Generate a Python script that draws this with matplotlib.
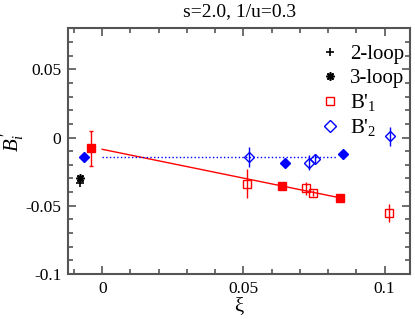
import numpy as np
import matplotlib
matplotlib.use('Agg')
import matplotlib.pyplot as plt
from matplotlib.lines import Line2D
from matplotlib.ticker import MultipleLocator, FuncFormatter

matplotlib.rcParams['font.family'] = ['Liberation Serif', 'DejaVu Serif']
matplotlib.rcParams['mathtext.fontset'] = 'custom'
matplotlib.rcParams['mathtext.rm'] = 'Liberation Serif'
matplotlib.rcParams['mathtext.it'] = 'Liberation Serif:italic'
matplotlib.rcParams['axes.unicode_minus'] = False

# loop results (extrapolated, plotted left of xi=0)
loop2_x, loop2_y = [-0.008], [-0.033]
loop3_x, loop3_y, loop3_e = [-0.008], [-0.030], [0.002]

# B'_1 filled / open
b1f_x = [-0.004, 0.0635, 0.0843]
b1f_y = [-0.008, -0.0357, -0.0442]
b1f_e = [0.0125, 0.002, 0.0015]
b1o_x = [0.0511, 0.0723, 0.0747, 0.1014]
b1o_y = [-0.0337, -0.0373, -0.0405, -0.0552]
b1o_e = [0.0104, 0.005, 0.002, 0.0065]

# B'_2 filled / open
b2f_x = [-0.0063, 0.0647, 0.0853]
b2f_y = [-0.0146, -0.0183, -0.0122]
b2f_e = [0.0, 0.003, 0.002]
b2o_x = [0.0519, 0.0733, 0.0755, 0.102]
b2o_y = [-0.0142, -0.0183, -0.0154, 0.001]
b2o_e = [0.0073, 0.0055, 0.003, 0.007]

# fits
fit1_x = [0.0, 0.0843]
fit1_y = [-0.0086, -0.0442]
fit2_x = [0.0, 0.083]
fit2_y = [-0.0146, -0.0146]

fig = plt.figure(figsize=(4.15, 3.19), dpi=100)
ax = fig.add_axes([0.1646, 0.141, 0.988 - 0.1646, 0.911 - 0.141])

red = '#ff0000'
blue = '#0000ff'
asterisk = (8, 2, 0)

ax.plot(fit1_x, fit1_y, color=red, lw=1)
ax.plot(fit2_x, fit2_y, color=blue, lw=1, ls=':')

ax.errorbar(b1f_x, b1f_y, yerr=b1f_e, fmt='s', color=red, ms=5.5, elinewidth=1, capsize=1.5, capthick=1)
ax.errorbar(b1o_x, b1o_y, yerr=b1o_e, fmt='s', color=red, mfc='none', ms=5.5, mew=1, elinewidth=1, capsize=0)
ax.errorbar(b2f_x, b2f_y, yerr=b2f_e, fmt='D', color=blue, ms=5.5, elinewidth=1, capsize=0)
ax.errorbar(b2o_x, b2o_y, yerr=b2o_e, fmt='D', color=blue, mfc='none', ms=5.5, mew=1, elinewidth=1, capsize=0)
ax.errorbar(loop3_x, loop3_y, yerr=loop3_e, fmt='none', ecolor='black', elinewidth=1, capsize=0)
ax.plot(loop3_x, loop3_y, ls='none', marker=asterisk, color='black', ms=6, mew=1.2)
ax.plot(loop2_x, loop2_y, '+', color='black', ms=6, mew=1.2)

ax.set_xlim(-0.012, 0.109)
ax.set_ylim(-0.1, 0.08)
ax.xaxis.set_major_locator(MultipleLocator(0.05))
ax.xaxis.set_minor_locator(MultipleLocator(0.01))
ax.yaxis.set_major_locator(MultipleLocator(0.05))
ax.yaxis.set_minor_locator(MultipleLocator(0.01))
fmt = FuncFormatter(lambda v, p: '%g' % round(v, 4))
ax.xaxis.set_major_formatter(fmt)
ax.yaxis.set_major_formatter(fmt)
ax.tick_params(which='both', direction='in', top=True, right=True, colors='#555555',
               labelcolor='black', labelsize=12.5)
ax.tick_params(which='major', length=6, width=1.2, pad=5)
ax.tick_params(which='minor', length=3.5, width=1.2)
for s in ax.spines.values():
    s.set_color('#555555')
    s.set_linewidth(1.5)

ax.set_title('s=2.0, 1/u=0.3', fontsize=14, pad=9)
ax.set_xlabel('ξ', fontsize=15, labelpad=0)
ax.set_ylabel(r"$B_i^{\,\prime}$", fontsize=15)
ax.yaxis.label.set_va('center')
ax.yaxis.set_label_coords(-0.162, 0.54)

handles = [
    Line2D([], [], ls='none', marker='+', color='black', ms=6, mew=1.2),
    Line2D([], [], ls='none', marker=asterisk, color='black', ms=6, mew=1.2),
    Line2D([], [], ls='none', marker='s', color=red, mfc='none', ms=6),
    Line2D([], [], ls='none', marker='D', color=blue, mfc='none', ms=6.5),
]
labels = ['2-loop', '3-loop', "B'$_1$", "B'$_2$"]
ax.legend(handles, labels, loc='upper right', bbox_to_anchor=(0.99, 0.942),
          frameon=False, fontsize=15, handlelength=1.0, handletextpad=0.45,
          labelspacing=0.2, borderpad=0.1, borderaxespad=0)

plt.savefig('out.png', dpi=100)
